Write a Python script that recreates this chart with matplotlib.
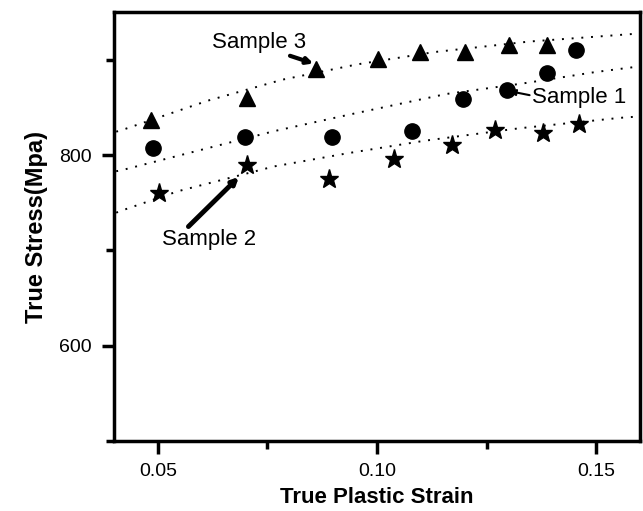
import matplotlib
matplotlib.use('Agg')
import matplotlib.pyplot as plt
from matplotlib.ticker import MultipleLocator
import numpy as np

plt.rcParams['font.family'] = ['Liberation Sans', 'DejaVu Sans']

# marker data
s3_x = [0.0485, 0.0703, 0.0861, 0.1002, 0.1099, 0.1201, 0.1302, 0.1388]
s3_y = [836.6, 859.7, 890, 900.5, 908, 908, 915, 915]

s1_x = [0.049, 0.0698, 0.0898, 0.1079, 0.1196, 0.1296, 0.1387, 0.1455]
s1_y = [807, 818.8, 818.8, 825.4, 859, 868, 885.5, 910]

s2_x = [0.0503, 0.0703, 0.0891, 0.1039, 0.117, 0.127, 0.1379, 0.146]
s2_y = [760, 789.5, 775, 795.5, 810.5, 826, 823, 833]

# dotted trend curves
t3_x = [0.0405, 0.0417, 0.0614, 0.0784, 0.0954, 0.1131, 0.1347, 0.16]
t3_y = [824.5, 826, 857, 879, 895, 908, 919, 927.5]
t1_x = [0.0405, 0.0417, 0.0553, 0.0765, 0.0939, 0.1158, 0.1332, 0.1498, 0.16]
t1_y = [783, 784, 800, 825, 842.6, 864, 875, 887, 893]
t2_x = [0.0405, 0.0413, 0.0546, 0.0765, 0.0935, 0.1109, 0.1324, 0.1555, 0.16]
t2_y = [739.5, 741, 762, 788, 802, 815, 828, 839, 840.5]

fig = plt.figure(figsize=(6.43, 5.11), dpi=100)
ax = fig.add_axes([0.1773, 0.137, 0.8180, 0.8395])

dots = (0, (1, 4))
for tx, ty in [(t3_x, t3_y), (t1_x, t1_y), (t2_x, t2_y)]:
    ax.plot(tx, ty, color='k', lw=1.4, linestyle=dots)

ax.plot(s3_x, s3_y, '^', color='k', ms=12, zorder=3)
ax.plot(s1_x, s1_y, 'o', color='k', ms=11, zorder=3)
ax.plot(s2_x, s2_y, '*', color='k', ms=14, zorder=3)

arrow = dict(arrowstyle='-|>', color='k', lw=3, mutation_scale=9, shrinkA=0, shrinkB=0)
ax.annotate('Sample 3', xy=(0.0855, 896), xytext=(0.0732, 918), fontsize=16,
            ha='center', va='center', arrowprops=dict(arrow, relpos=(0.7, 0.05)))
ax.annotate('Sample 2', xy=(0.0685, 777), xytext=(0.0617, 711), fontsize=16,
            ha='center', va='center', arrowprops=dict(arrow, lw=3.5, relpos=(0.25, 1.0)))
ax.annotate('Sample 1', xy=(0.1302, 867), xytext=(0.1462, 860), fontsize=16,
            ha='center', va='center', arrowprops=dict(arrow, lw=1.5, relpos=(0.0, 0.6)))

ax.set_xlim(0.04, 0.16)
ax.set_ylim(500, 950)
ax.xaxis.set_minor_locator(MultipleLocator(0.025))
ax.yaxis.set_major_locator(MultipleLocator(200))
ax.yaxis.set_minor_locator(MultipleLocator(100))
ax.set_xticks([0.05, 0.10, 0.15])
ax.set_xticklabels(['0.05', '0.10', '0.15'])

ax.tick_params(which='major', direction='out', length=9, width=2.5, labelsize=14, pad=7)
ax.tick_params(which='minor', direction='out', length=6, width=2.5)
for sp in ax.spines.values():
    sp.set_linewidth(2.5)

ax.set_xlabel('True Plastic Strain', fontsize=16, fontweight='bold', labelpad=5)
ax.set_ylabel('True Stress(Mpa)', fontsize=17, fontweight='bold', labelpad=8)

fig.savefig('out.png', dpi=100)
